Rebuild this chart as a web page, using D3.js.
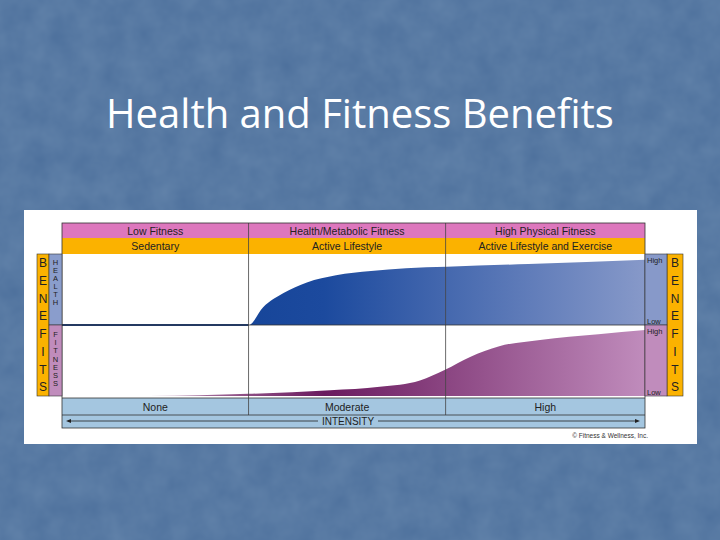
<!DOCTYPE html>
<html><head><meta charset="utf-8">
<script src="https://d3js.org/d3.v7.min.js"></script>
<style>body{margin:0;background:#4d709c}text{font-family:Arial,'Liberation Sans',sans-serif}</style>
</head><body>
<svg id="c" width="720" height="540"></svg>
<script>
// intensity (0..1 across plot) and benefit (0..1)
var healthX = [0, 0.32, 0.345, 0.38, 0.42, 0.47, 0.53, 0.59, 0.66, 0.8, 1];
var healthY = [0, 0, 0.25, 0.45, 0.6, 0.7, 0.76, 0.8, 0.82, 0.86, 0.92];
var fitX = [0, 0.15, 0.32, 0.46, 0.545, 0.614, 0.657, 0.70, 0.75, 0.82, 0.92, 1];
var fitY = [0, 0, 0.03, 0.08, 0.13, 0.22, 0.37, 0.55, 0.7, 0.79, 0.87, 0.93];
var topLabels = ["Low Fitness", "Health/Metabolic Fitness", "High Physical Fitness"];
var midLabels = ["Sedentary", "Active Lifestyle", "Active Lifestyle and Exercise"];
var bottomLabels = ["None", "Moderate", "High"];
var colBreaks = [0, 0.32, 0.658, 1];

var svg = d3.select("#c");
var defs = svg.append("defs");
var f = defs.append("filter").attr("id", "tex");
f.append("feTurbulence").attr("type", "fractalNoise").attr("baseFrequency", 0.04).attr("numOctaves", 3);
f.append("feColorMatrix").attr("values", "0 0 0 0 0.25  0 0 0 0 0.38  0 0 0 0 0.55  0 0 0 0.35 0");
svg.append("rect").attr("width", 720).attr("height", 540).attr("fill", "#4d709c");
svg.append("rect").attr("width", 720).attr("height", 540).attr("filter", "url(#tex)");

svg.append("text").attr("x", 360).attr("y", 128).attr("text-anchor", "middle")
  .attr("fill", "#fff").attr("font-size", 40).style("font-family", "'Open Sans',sans-serif").style("font-weight", 400)
  .text("Health and Fitness Benefits");

svg.append("rect").attr("x", 24).attr("y", 210).attr("width", 673).attr("height", 234).attr("fill", "#fff");

var L = 62, R = 645;
var x = d3.scaleLinear().domain([0, 1]).range([L, R]);
var yH = d3.scaleLinear().domain([0, 1]).range([325, 254]);
var yF = d3.scaleLinear().domain([0, 1]).range([396, 325]);

function grad(id, c1, c2, c3) {
  var g = defs.append("linearGradient").attr("id", id).attr("gradientUnits", "userSpaceOnUse")
    .attr("x1", L).attr("x2", R).attr("y1", 0).attr("y2", 0);
  g.append("stop").attr("offset", 0).attr("stop-color", c1);
  g.append("stop").attr("offset", 0.45).attr("stop-color", c2);
  g.append("stop").attr("offset", 1).attr("stop-color", c3);
}
grad("gh", "#0a3a8e", "#1c4a9e", "#8799c9");
grad("gf", "#e0c8dc", "#6a1a5e", "#c08cbc");

function band(y, h, fill, labels) {
  svg.append("rect").attr("x", L).attr("y", y).attr("width", R - L).attr("height", h).attr("fill", fill);
  labels.forEach(function (t, i) {
    svg.append("text").attr("x", (x(colBreaks[i]) + x(colBreaks[i + 1])) / 2).attr("y", y + h / 2 + 4)
      .attr("text-anchor", "middle").attr("font-size", 10.5).attr("fill", "#222").text(t);
  });
}
band(223, 15, "#dd77bd", topLabels);
band(238, 16, "#fbb200", midLabels);
band(398, 17, "#a4c6e0", bottomLabels);
svg.append("rect").attr("x", L).attr("y", 415).attr("width", R - L).attr("height", 13).attr("fill", "#a4c6e0");

var area = function (ys) {
  return d3.area().x(function (d) { return x(d[0]); }).y0(ys(0)).y1(function (d) { return ys(d[1]); })
    .curve(d3.curveMonotoneX);
};
svg.append("path").datum(d3.zip(healthX, healthY)).attr("d", area(yH)).attr("fill", "url(#gh)");
svg.append("path").datum(d3.zip(fitX, fitY)).attr("d", area(yF)).attr("fill", "url(#gf)");
svg.append("line").attr("x1", L).attr("x2", x(0.32)).attr("y1", 325).attr("y2", 325).attr("stroke", "#1c3f80").attr("stroke-width", 2);

colBreaks.slice(1, 3).forEach(function (b) {
  svg.append("line").attr("x1", x(b)).attr("x2", x(b)).attr("y1", 223).attr("y2", 415).attr("stroke", "#444").attr("stroke-width", 0.8);
});
[325, 398, 415].forEach(function (y) {
  svg.append("line").attr("x1", L).attr("x2", R).attr("y1", y).attr("y2", y).attr("stroke", "#333").attr("stroke-width", 0.8);
});
svg.append("rect").attr("x", L).attr("y", 223).attr("width", R - L).attr("height", 205).attr("fill", "none").attr("stroke", "#333").attr("stroke-width", 0.8);

// intensity arrow
svg.append("line").attr("x1", 68).attr("x2", 318).attr("y1", 421).attr("y2", 421).attr("stroke", "#222").attr("stroke-width", 0.8);
svg.append("line").attr("x1", 378).attr("x2", 636).attr("y1", 421).attr("y2", 421).attr("stroke", "#222").attr("stroke-width", 0.8);
svg.append("path").attr("d", "M66,421l5,-2v4z M640,421l-5,-2v4z").attr("fill", "#222");
svg.append("text").attr("x", 348).attr("y", 425).attr("text-anchor", "middle").attr("font-size", 10).attr("fill", "#222").text("INTENSITY");

function vbar(x0, y0, w, h, fill, word, fs) {
  svg.append("rect").attr("x", x0).attr("y", y0).attr("width", w).attr("height", h).attr("fill", fill).attr("stroke", "#333").attr("stroke-width", 0.6);
  var step = h / word.length;
  word.split("").forEach(function (c, i) {
    svg.append("text").attr("x", x0 + w / 2).attr("y", y0 + step * i + step / 2 + fs * 0.36)
      .attr("text-anchor", "middle").attr("font-size", fs).attr("fill", "#222").text(c);
  });
}
vbar(37, 254, 12, 142, "#fbb200", "BENEFITS", 12);
vbar(667, 254, 16, 142, "#fbb200", "BENEFITS", 12);
svg.append("rect").attr("x", 49).attr("y", 254).attr("width", 13).attr("height", 71).attr("fill", "#8a9dcc").attr("stroke", "#333").attr("stroke-width", 0.6);
svg.append("rect").attr("x", 49).attr("y", 325).attr("width", 13).attr("height", 71).attr("fill", "#c08cbc").attr("stroke", "#333").attr("stroke-width", 0.6);
"HEALTH".split("").forEach(function (c, i) {
  svg.append("text").attr("x", 55.5).attr("y", 265 + i * 8).attr("text-anchor", "middle").attr("font-size", 7.5).attr("fill", "#222").text(c);
});
"FITNESS".split("").forEach(function (c, i) {
  svg.append("text").attr("x", 55.5).attr("y", 337 + i * 8.2).attr("text-anchor", "middle").attr("font-size", 7.5).attr("fill", "#222").text(c);
});
svg.append("rect").attr("x", R).attr("y", 254).attr("width", 22).attr("height", 71).attr("fill", "#8799c9").attr("stroke", "#333").attr("stroke-width", 0.6);
svg.append("rect").attr("x", R).attr("y", 325).attr("width", 22).attr("height", 71).attr("fill", "#c08cbc").attr("stroke", "#333").attr("stroke-width", 0.6);
[[263, "High"], [324, "Low"], [334, "High"], [395, "Low"]].forEach(function (d) {
  svg.append("text").attr("x", R + 2).attr("y", d[0]).attr("font-size", 7.5).attr("fill", "#222").text(d[1]);
});

svg.append("text").attr("x", 648).attr("y", 438).attr("text-anchor", "end").attr("font-size", 6.5).attr("fill", "#333").text("© Fitness & Wellness, Inc.");
</script>
</body></html>
